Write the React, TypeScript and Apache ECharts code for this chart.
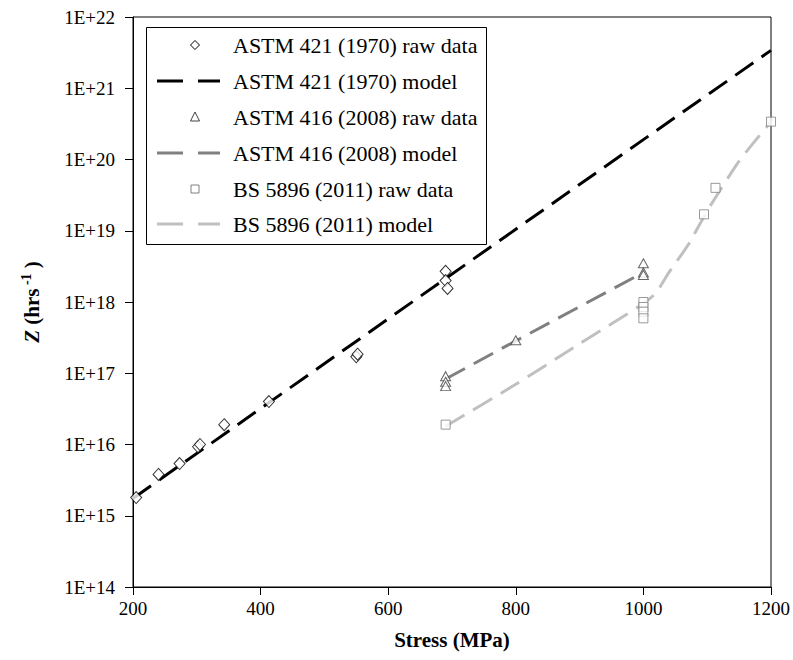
import React, { useEffect, useRef } from "react";
import * as echarts from "echarts";

// ---- data ----
const astm421RawX = [205, 240, 273, 302, 305, 343, 413, 550, 552, 690, 690, 693];
const astm421RawY = [1.8e15, 3.8e15, 5.4e15, 9.3e15, 1.0e16, 1.9e16, 4.0e16, 1.7e17, 1.85e17, 2.7e18, 2.0e18, 1.55e18];

const astm421ModelX = [200, 400, 600, 800, 1000, 1200];
const astm421ModelY = [1.75e15, 3.2e16, 5.8e17, 1.05e19, 1.9e20, 3.4e21];

const astm416RawX = [690, 690, 690, 800, 1000, 1000, 1000];
const astm416RawY = [9.1e16, 7.6e16, 6.6e16, 2.9e17, 3.5e18, 2.6e18, 2.4e18];

const astm416ModelX = [690, 800, 1000];
const astm416ModelY = [8.3e16, 2.85e17, 2.6e18];

const bsRawX = [690, 1000, 1000, 1000, 1000, 1095, 1113, 1200];
const bsRawY = [1.9e16, 1.0e18, 8.5e17, 7.3e17, 5.9e17, 1.7e19, 4.0e19, 3.4e20];

const bsModelX = [690, 800, 900, 1000, 1020, 1040, 1070, 1100, 1150, 1200];
const bsModelY = [1.8e16, 7.0e16, 2.6e17, 9.5e17, 1.35e18, 2.6e18, 6.3e18, 1.9e19, 9.5e19, 3.4e20];

const xTicks = [200, 400, 600, 800, 1000, 1200];

const legendLabels = [
  "ASTM 421 (1970) raw data",
  "ASTM 421 (1970) model",
  "ASTM 416 (2008) raw data",
  "ASTM 416 (2008) model",
  "BS 5896 (2011) raw data",
  "BS 5896 (2011) model",
];

const zip = (xs: number[], ys: number[]) => xs.map((x, i) => [x, ys[i]]);

const FONT = "Liberation Serif";

export default function App() {
  const ref = useRef<HTMLDivElement>(null);
  useEffect(() => {
    document.body.style.margin = "0";
    const chart = echarts.init(ref.current!, null, { renderer: "svg" });

    const dash = [22, 10];
    const lx1 = 157, lx2 = 220, sx = 195, tx = 233;
    const rowY = [45, 81, 117, 153, 189, 224];

    const legendGraphics: any[] = [
      {
        type: "rect",
        shape: { x: 146.5, y: 27.5, width: 340, height: 217 },
        style: { fill: "#fff", stroke: "#000", lineWidth: 1 },
        z: 10,
      },
      {
        type: "polygon",
        shape: { points: [[sx, rowY[0] - 4.5], [sx + 4.5, rowY[0]], [sx, rowY[0] + 4.5], [sx - 4.5, rowY[0]]] },
        style: { fill: "#fff", stroke: "#000", lineWidth: 1 },
        z: 11,
      },
      {
        type: "line",
        shape: { x1: lx1, y1: rowY[1], x2: lx2, y2: rowY[1] },
        style: { stroke: "#000", lineWidth: 3, lineDash: [26, 15] },
        z: 11,
      },
      {
        type: "polygon",
        shape: { points: [[sx, rowY[2] - 5], [sx + 4.5, rowY[2] + 4], [sx - 4.5, rowY[2] + 4]] },
        style: { fill: "#fff", stroke: "#404040", lineWidth: 1 },
        z: 11,
      },
      {
        type: "line",
        shape: { x1: lx1, y1: rowY[3], x2: lx2, y2: rowY[3] },
        style: { stroke: "#808080", lineWidth: 3, lineDash: [26, 15] },
        z: 11,
      },
      {
        type: "rect",
        shape: { x: sx - 4, y: rowY[4] - 4, width: 8, height: 8 },
        style: { fill: "#fff", stroke: "#808080", lineWidth: 1 },
        z: 11,
      },
      {
        type: "line",
        shape: { x1: lx1, y1: rowY[5], x2: lx2, y2: rowY[5] },
        style: { stroke: "#c0c0c0", lineWidth: 3, lineDash: [26, 15] },
        z: 11,
      },
      ...legendLabels.map((t, i) => ({
        type: "text",
        x: tx,
        y: rowY[i],
        style: {
          text: t,
          fontFamily: FONT,
          fontSize: 22,
          fill: "#000",
          verticalAlign: "middle",
          align: "left",
        },
        z: 11,
      })),
    ];

    chart.setOption({
      animation: false,
      backgroundColor: "#fff",
      grid: {
        left: 133,
        right: 21,
        top: 17,
        bottom: 73,
        show: true,
        borderColor: "#000",
        borderWidth: 1,
        backgroundColor: "transparent",
      },
      xAxis: {
        type: "value",
        min: 200,
        max: 1200,
        interval: 200,
        name: "Stress (MPa)",
        nameLocation: "middle",
        nameGap: 42,
        nameTextStyle: { fontFamily: FONT, fontSize: 21, fontWeight: "bold", color: "#000" },
        axisLine: { show: true, lineStyle: { color: "#000", width: 1 } },
        axisTick: { show: true, length: 8, inside: false, lineStyle: { color: "#000" } },
        axisLabel: {
          fontFamily: FONT,
          fontSize: 19,
          color: "#000",
          margin: 12,
          formatter: (v: number) => (xTicks.includes(v) ? String(v) : ""),
        },
        splitLine: { show: false },
      },
      yAxis: {
        type: "log",
        logBase: 10,
        min: 1e14,
        max: 1e22,
        name: "{i|Z} (hrs{s| -1} )",
        nameLocation: "middle",
        nameRotate: 90,
        nameGap: 88,
        nameTextStyle: {
          fontFamily: FONT,
          fontSize: 21,
          fontWeight: "bold",
          color: "#000",
          rich: {
            i: { fontFamily: FONT, fontSize: 21, fontWeight: "bold", fontStyle: "italic", color: "#000" },
            s: { fontFamily: FONT, fontSize: 14, fontWeight: "bold", color: "#000", verticalAlign: "top", padding: [0, 0, 12, 0] },
          },
        },
        axisLine: { show: true, lineStyle: { color: "#000", width: 1 } },
        axisTick: { show: true, length: 8, inside: false, lineStyle: { color: "#000" } },
        axisLabel: {
          fontFamily: FONT,
          fontSize: 19,
          color: "#000",
          margin: 18,
          formatter: (v: number) => "1E+" + Math.round(Math.log10(v)),
        },
        splitLine: { show: false },
        minorTick: { show: false },
      },
      series: [
        {
          type: "line",
          name: legendLabels[1],
          data: zip(astm421ModelX, astm421ModelY),
          symbol: "none",
          lineStyle: { color: "#000", width: 3, type: dash },
          z: 2,
        },
        {
          type: "line",
          name: legendLabels[3],
          data: zip(astm416ModelX, astm416ModelY),
          symbol: "none",
          lineStyle: { color: "#808080", width: 3, type: dash },
          z: 2,
        },
        {
          type: "line",
          name: legendLabels[5],
          data: zip(bsModelX, bsModelY),
          symbol: "none",
          smooth: 0.2,
          lineStyle: { color: "#c0c0c0", width: 3, type: dash },
          z: 2,
        },
        {
          type: "scatter",
          name: legendLabels[0],
          data: zip(astm421RawX, astm421RawY),
          symbol: "diamond",
          symbolSize: [11, 12],
          itemStyle: { color: "#fff", borderColor: "#000", borderWidth: 1 },
          z: 5,
        },
        {
          type: "scatter",
          name: legendLabels[2],
          data: zip(astm416RawX, astm416RawY),
          symbol: "triangle",
          symbolSize: [10, 9],
          itemStyle: { color: "#fff", borderColor: "#404040", borderWidth: 1 },
          z: 5,
        },
        {
          type: "scatter",
          name: legendLabels[4],
          data: zip(bsRawX, bsRawY),
          symbol: "rect",
          symbolSize: 9,
          itemStyle: { color: "#fff", borderColor: "#808080", borderWidth: 1 },
          z: 5,
        },
      ],
      graphic: legendGraphics,
    });

    return () => chart.dispose();
  }, []);

  return <div ref={ref} style={{ width: 793, height: 660 }} />;
}
